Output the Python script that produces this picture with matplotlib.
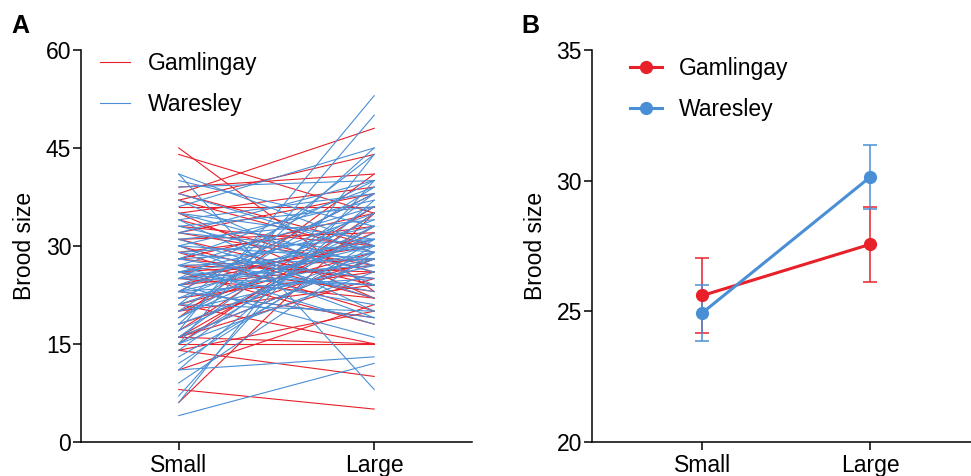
import numpy as np
import matplotlib
matplotlib.use("Agg")
import matplotlib.pyplot as plt
from matplotlib.lines import Line2D

# --- DATA ---
groups = ["Small", "Large"]

gam_small = [45, 44, 39, 38, 37, 37, 36, 35, 35, 34, 33, 32, 32, 31, 31, 30, 29, 29, 28, 28,
             27, 27, 26, 26, 25, 25, 24, 24, 23, 23, 22, 21, 21, 20, 19, 18, 17, 16, 16, 16,
             16, 15, 15, 14, 14, 20, 11, 8, 6, 38]
gam_large = [23, 35, 41, 48, 44, 29, 36, 22, 39, 26, 30, 38, 27, 24, 32, 22, 33, 20, 35, 25,
             26, 23, 28, 18, 30, 22, 31, 27, 38, 19, 26, 29, 15, 32, 41, 28, 36, 28, 33, 25,
             15, 35, 15, 10, 20, 24, 21, 5, 35, 30]

war_small = [41, 41, 40, 39, 38, 37, 36, 35, 35, 34, 34, 33, 33, 32, 32, 31, 31, 30, 30, 30,
             29, 29, 28, 28, 28, 27, 27, 27, 26, 26, 26, 25, 25, 25, 25, 24, 24, 24, 23, 23,
             23, 22, 22, 21, 21, 21, 20, 20, 19, 19, 18, 18, 17, 17, 16, 16, 15, 15, 15, 14,
             13, 23, 12, 26, 11, 11, 9, 7, 6, 4]
war_large = [8, 30, 33, 40, 29, 24, 45, 31, 27, 38, 20, 36, 26, 40, 29, 22, 34, 28, 37, 19,
             31, 25, 39, 30, 23, 36, 28, 18, 33, 30, 21, 40, 31, 27, 24, 35, 29, 16, 38, 30,
             25, 34, 28, 44, 31, 20, 39, 27, 33, 36, 29, 45, 53, 32, 38, 28, 50, 33, 26, 35,
             30, 19, 31, 24, 37, 13, 29, 40, 44, 12]

# panel B: means and SEM
gam_mean = [25.6, 27.56]
gam_sem = [1.45, 1.43]
war_mean = [24.94, 30.14]
war_sem = [1.07, 1.24]

RED = "#E8202A"
BLUE = "#4A8FD6"
FS = 16.5

plt.rcParams["font.family"] = ["Liberation Sans", "DejaVu Sans"]

fig = plt.figure(figsize=(9.71, 4.76), dpi=100)
axA = fig.add_axes([0.0834, 0.072, 0.4026, 0.823])
axB = fig.add_axes([0.6094, 0.072, 0.3906, 0.823])

x = np.arange(len(groups))

# --- Panel A: paired lines ---
for s, l in zip(gam_small, gam_large):
    axA.plot(x, [s, l], color=RED, lw=0.8, zorder=2)
for s, l in zip(war_small, war_large):
    axA.plot(x, [s, l], color=BLUE, lw=0.8, zorder=2)
handlesA = [Line2D([], [], color=RED, lw=0.8), Line2D([], [], color=BLUE, lw=0.8)]

axA.set_xlim(-0.5, 1.5)
axA.set_ylim(0, 60)
axA.set_yticks([0, 15, 30, 45, 60])
axA.set_ylabel("Brood size", fontsize=FS, labelpad=7)
axA.legend(handlesA, ["Gamlingay", "Waresley"], loc="upper left", bbox_to_anchor=(0.048, 0.995),
           frameon=False, fontsize=FS, handlelength=1.3, handletextpad=0.78, labelspacing=0.77,
           borderpad=0, borderaxespad=0)

# --- Panel B: means with SEM ---
axB.errorbar(x, gam_mean, yerr=gam_sem, color=RED, lw=2.2, marker="o", ms=8.5,
             elinewidth=1.1, capsize=4.7, capthick=1.1, zorder=3)
axB.errorbar(x, war_mean, yerr=war_sem, color=BLUE, lw=2.2, marker="o", ms=8.5,
             elinewidth=1.1, capsize=4.7, capthick=1.1, zorder=3)
axB.set_xlim(-0.66, 1.6)
axB.set_ylim(20, 35)
axB.set_yticks([20, 25, 30, 35])
axB.set_ylabel("Brood size", fontsize=FS, labelpad=7)
handlesB = [Line2D([], [], color=RED, lw=2.2, marker="o", ms=8.5),
            Line2D([], [], color=BLUE, lw=2.2, marker="o", ms=8.5)]
axB.legend(handlesB, ["Gamlingay", "Waresley"], loc="upper left", bbox_to_anchor=(0.1, 0.981),
           frameon=False, fontsize=FS, handlelength=1.4, handletextpad=0.75, labelspacing=0.77,
           borderpad=0, borderaxespad=0)

for ax in (axA, axB):
    ax.set_xticks(x)
    ax.set_xticklabels(groups)
    ax.spines["top"].set_visible(False)
    ax.spines["right"].set_visible(False)
    for sp in ("left", "bottom"):
        ax.spines[sp].set_linewidth(1.1)
    ax.tick_params(width=1.1, length=6, labelsize=FS, pad=1)
    ax.tick_params(axis="x", pad=3)

fig.text(0.012, 0.97, "A", fontsize=18, fontweight="bold", va="top", ha="left")
fig.text(0.537, 0.97, "B", fontsize=18, fontweight="bold", va="top", ha="left")

fig.savefig("out.png", dpi=100)
